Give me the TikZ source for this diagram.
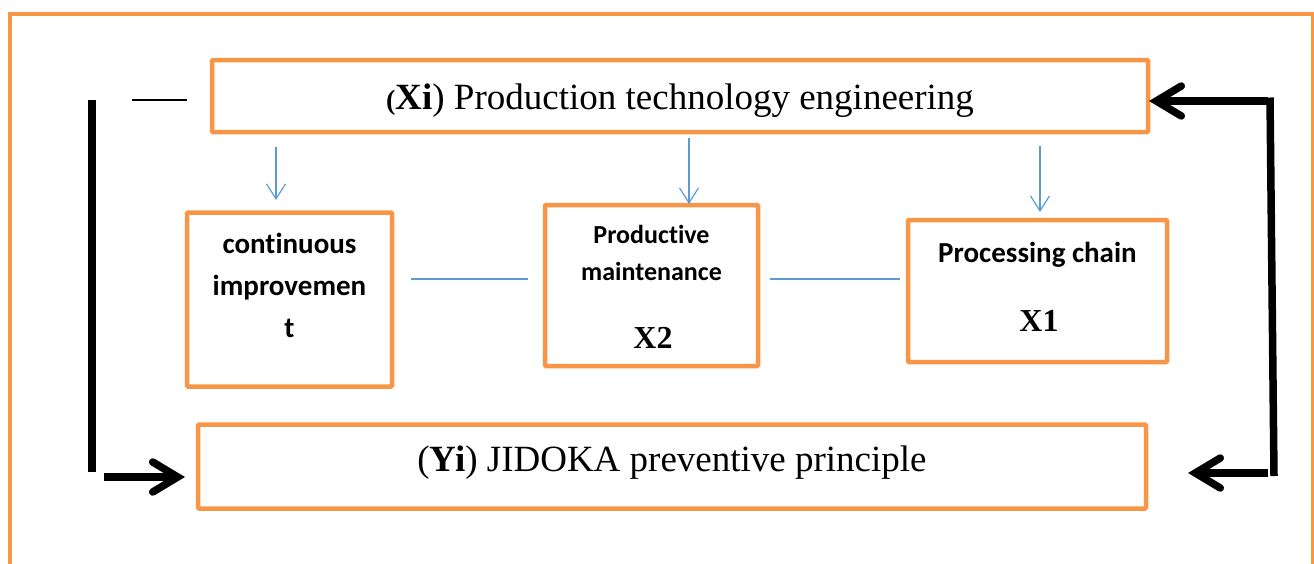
\documentclass[tikz,border=0pt]{standalone}
\usepackage{fontspec}
\setmainfont{Liberation Serif}
\newfontfamily\calib[Ligatures=NoCommon]{Carlito}
\usetikzlibrary{arrows.meta}
\definecolor{orng}{HTML}{F79646}
\definecolor{lblue}{HTML}{5B9BD5}
\tikzset{
  obox/.style={draw=orng, line width=4.5pt, rounded corners=1pt, minimum width=#1, inner sep=0pt},
  boxtxt/.style={font=\calib\bfseries\fontsize{29}{35}\selectfont, anchor=base, inner sep=0pt},
  smtxt/.style={font=\calib\bfseries\fontsize{26}{31}\selectfont, anchor=base, inner sep=0pt},
  xtxt/.style={font=\bfseries\fontsize{32}{38}\selectfont, anchor=base, inner sep=0pt},
  bigtxt/.style={font=\fontsize{37}{44}\selectfont, anchor=base, inner sep=0pt},
  bline/.style={line width=7.5pt, line cap=butt},
  barrow/.style={line width=7.5pt, -{Straight Barb[length=25pt,width=30pt,line cap=round]}},
  thinblue/.style={draw=lblue, line width=1.2pt},
  bluearrow/.style={draw=lblue, line width=1.2pt, -{Straight Barb[length=15pt,width=19pt]}},
}
\begin{document}
\begin{tikzpicture}[x=1pt,y=-1pt]
\useasboundingbox (0,0) rectangle (1314,563);
% outer frame
\draw[orng, line width=4.5pt] (10,570) -- (10,14) -- (1313,14) -- (1313,570);

% main boxes
\node[obox=936pt, minimum height=72pt] (top) at (680,96) {};
\node[obox=948pt, minimum height=84pt] (bot) at (672,466.5) {};
\node[obox=205pt, minimum height=174pt] (ci) at (289.5,299.5) {};
\node[obox=213pt, minimum height=161pt] (pm) at (651.5,285.5) {};
\node[obox=259pt, minimum height=142pt] (pc) at (1037.5,291) {};

% texts
\node[bigtxt] (toptxt) at (680,109) {{\bfseries\fontsize{28}{30}\selectfont(}{\bfseries Xi}) Production technology engineering};
\node[bigtxt] (bottxt) at (672,471) {({\bfseries Yi}) JIDOKA preventive principle};

\node[boxtxt] (ci1) at (289.5,253) {continuous};
\node[boxtxt] (ci2) at (289.5,295) {improvemen};
\node[boxtxt] (ci3) at (289.5,337) {t};

\node[smtxt] (pm1) at (651.5,243) {Productive};
\node[smtxt] (pm2) at (651.5,280) {maintenance};
\node[xtxt] (pm3) at (653,348) {X2};

\node[boxtxt] (pc1) at (1037.5,262) {Processing chain};
\node[xtxt] (pc2) at (1039,331) {X1};

% free ends
\coordinate (a1s) at (276,147);
\coordinate (a1e) at (276,200);
\coordinate (a2s) at (689,138);
\coordinate (a2e) at (689,204);
\coordinate (a3s) at (1040,146);
\coordinate (a3e) at (1040,212);
\coordinate (h1s) at (411,279);
\coordinate (h1e) at (528,279);
\coordinate (h2s) at (770,279);
\coordinate (h2e) at (900,279);

\coordinate (dashs) at (132,100);
\coordinate (dashe) at (187,100);
\coordinate (lvtop) at (92,100);
\coordinate (lvbot) at (92,472);
\coordinate (lhs) at (104,477);
\coordinate (lhe) at (185,477);

\coordinate (rtop) at (1268,101);
\coordinate (rtip) at (1149,101);
\coordinate (rvtop) at (1270,97.5);
\coordinate (rvbot) at (1274,476);
\coordinate (rbs) at (1268,473);
\coordinate (rbe) at (1188,473);

% blue connectors
\draw[bluearrow] (a1s) -- (a1e);
\draw[bluearrow] (a2s) -- (a2e);
\draw[bluearrow] (a3s) -- (a3e);
\draw[thinblue] (h1s) -- (h1e);
\draw[thinblue] (h2s) -- (h2e);

% black connectors
\draw[line width=2pt] (dashs) -- (dashe);
\draw[bline] (lvtop) -- (lvbot);
\draw[barrow] (lhs) -- (lhe);
\draw[barrow] (rtop) -- (rtip);
\draw[bline] (rvtop) -- (rvbot);
\draw[barrow] (rbs) -- (rbe);
\end{tikzpicture}
\end{document}
